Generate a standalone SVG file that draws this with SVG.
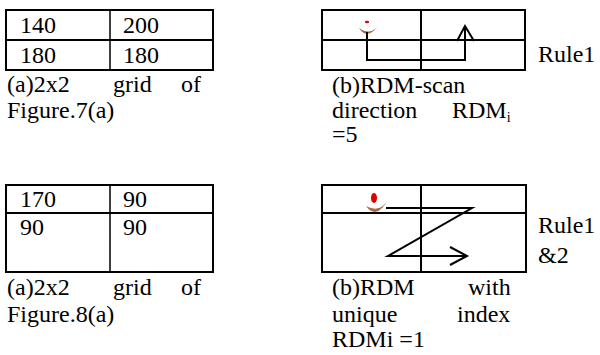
<svg xmlns="http://www.w3.org/2000/svg" width="600" height="355" viewBox="0 0 600 355">
<style>
.box{fill:none;stroke:#000;stroke-width:2}
.in{stroke:#000;stroke-width:2}
.thin{stroke:#000;stroke-width:1.5}
.path{fill:none;stroke:#000;stroke-width:2}
.moon{fill:#a36a45}
.dot{fill:#e00000}
</style>
<rect width="600" height="355" fill="#fff"/>
<g id="table1">
<rect class="box" x="6" y="10" width="207" height="60"/>
<line class="in" x1="6" y1="40" x2="213" y2="40"/>
<line class="thin" x1="110" y1="10" x2="110" y2="70"/>
<text x="20" y="33" font-family="Liberation Serif" font-size="24">140</text>
<text x="123" y="33" font-family="Liberation Serif" font-size="24">200</text>
<text x="20" y="63" font-family="Liberation Serif" font-size="24">180</text>
<text x="123" y="63" font-family="Liberation Serif" font-size="24">180</text>
<text x="7" y="92" font-family="Liberation Serif" font-size="24">(a)2x2</text>
<text x="113" y="92" font-family="Liberation Serif" font-size="24">grid</text>
<text x="181" y="92" font-family="Liberation Serif" font-size="24">of</text>
<text x="7" y="118" font-family="Liberation Serif" font-size="24">Figure.7(a)</text>
</g>
<g id="scan1">
<rect class="box" x="322" y="10" width="203" height="60"/>
<line class="in" x1="322" y1="40" x2="525" y2="40"/>
<line class="in" x1="421" y1="10" x2="421" y2="70"/>
<ellipse class="dot" cx="367" cy="22" rx="2.2" ry="1.3"/>
<path class="moon" d="M359,28 Q368,42 380,23 Q372,37 359,28 Z"/>
<text x="538" y="62" font-family="Liberation Serif" font-size="24">Rule1</text>
<text x="332" y="93" font-family="Liberation Serif" font-size="24">(b)RDM-scan</text>
<text x="332" y="118" font-family="Liberation Serif" font-size="24">direction</text>
<text x="452" y="118" font-family="Liberation Serif" font-size="24">RDM<tspan font-size="14" dy="4">i</tspan></text>
<text x="332" y="142" font-family="Liberation Serif" font-size="24">=5</text>
</g>
<g id="table2">
<rect class="box" x="6" y="185" width="207" height="87"/>
<line class="in" x1="6" y1="213" x2="213" y2="213"/>
<line class="thin" x1="110" y1="185" x2="110" y2="272"/>
<text x="20" y="207" font-family="Liberation Serif" font-size="24">170</text>
<text x="123" y="207" font-family="Liberation Serif" font-size="24">90</text>
<text x="20" y="235" font-family="Liberation Serif" font-size="24">90</text>
<text x="123" y="235" font-family="Liberation Serif" font-size="24">90</text>
<text x="7" y="295" font-family="Liberation Serif" font-size="24">(a)2x2</text>
<text x="113" y="295" font-family="Liberation Serif" font-size="24">grid</text>
<text x="181" y="295" font-family="Liberation Serif" font-size="24">of</text>
<text x="7" y="322" font-family="Liberation Serif" font-size="24">Figure.8(a)</text>
</g>
<g id="scan2">
<rect class="box" x="322" y="185" width="204" height="87"/>
<line class="in" x1="322" y1="213" x2="526" y2="213"/>
<line class="in" x1="421" y1="185" x2="421" y2="272"/>
<path class="moon" d="M366,206 Q377,221 389,198 Q381,214 366,206 Z"/>
<ellipse class="dot" cx="374" cy="198" rx="3" ry="5"/>
<text x="538" y="233" font-family="Liberation Serif" font-size="24">Rule1</text>
<text x="538" y="263" font-family="Liberation Serif" font-size="24">&amp;2</text>
<text x="332" y="295" font-family="Liberation Serif" font-size="24">(b)RDM</text>
<text x="468" y="295" font-family="Liberation Serif" font-size="24">with</text>
<text x="332" y="322" font-family="Liberation Serif" font-size="24">unique</text>
<text x="457" y="322" font-family="Liberation Serif" font-size="24">index</text>
<text x="332" y="347" font-family="Liberation Serif" font-size="24">RDMi =1</text>
</g>
<g id="connectors">
<path class="path" d="M367,32 V60 H465 V26"/>
<path class="path" d="M457,41 L465,26 L474,41"/>
<path class="path" d="M386,208 H472 L388,256 H467"/>
<path class="path" d="M450,247 L467,256 L450,265"/>
</g>
</svg>
